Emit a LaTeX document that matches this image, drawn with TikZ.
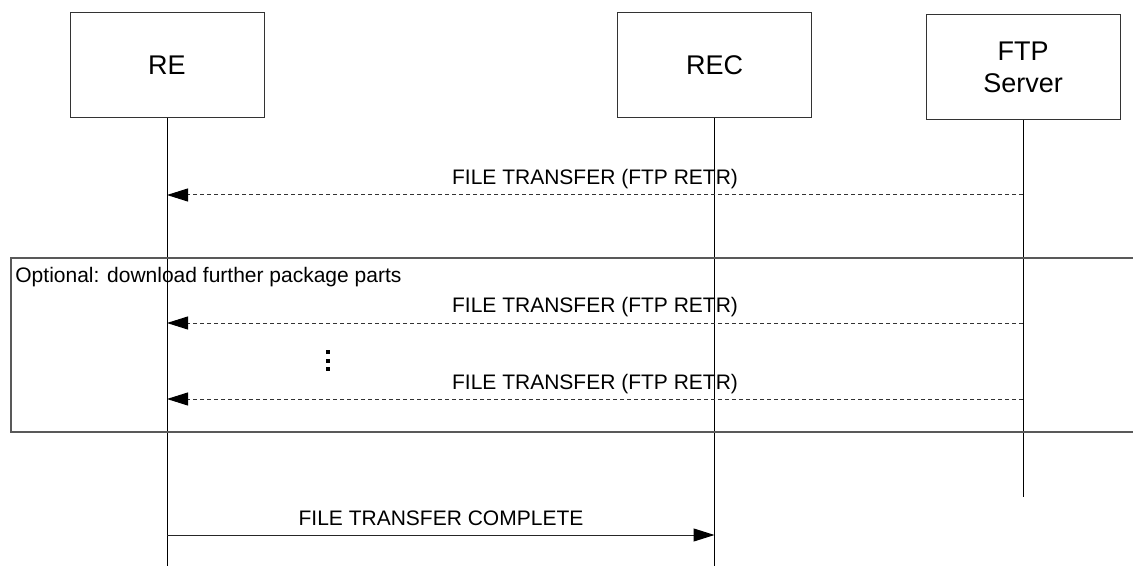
\documentclass[tikz,border=0pt]{standalone}
\usepackage{fontspec}
\setmainfont{Liberation Sans}
\usetikzlibrary{arrows.meta}

\begin{document}
\begin{tikzpicture}[x=0.5pt, y=-0.5pt,
    entity/.style={draw=black!80, line width=0.5pt, minimum width=97pt, minimum height=52.5pt, align=center, font=\fontsize{13.5}{16}\selectfont},
    life/.style={line width=0.5pt},
    msg/.style={line width=0.5pt, -{Triangle[length=10.5pt, width=6.5pt, black]}},
    reply/.style={msg, black!80, dash pattern=on 2pt off 1.5pt},
    lbl/.style={anchor=base, font=\fontsize{10.5}{12.6}\selectfont}]
    \useasboundingbox (0,0) rectangle (1133,566);
    % Draw the entities and their lifelines
    \foreach \name/\x/\y/\txt in {re/167/65.5/RE, rec/714.5/65.5/REC, ftp/1023/67.5/FTP\\Server} {
        \node[entity] (\name) at (\x, \y) {\txt};
    }
    \coordinate (re-end) at (167, 566);
    \coordinate (rec-end) at (714.5, 566);
    \coordinate (ftp-end) at (1023, 497);
    \draw[life] (re) -- (re-end);
    \draw[life] (rec) -- (rec-end);
    \draw[life] (ftp) -- (ftp-end);
    % Draw the optional frame
    \draw[black!65, line width=0.6pt] (1140, 258) -| (11, 432) -- (1140, 432);
    \node[anchor=west, inner sep=1pt, font=\fontsize{10.5}{12.6}\selectfont] (opt) at (13, 277) {Optional: download further package parts};
    % Draw the file transfers
    \foreach \n/\y in {1/195, 2/323, 3/399} {
        \coordinate (ftp-\n) at (1023, \y);
        \coordinate (re-\n) at (167, \y);
        \draw[reply] (ftp-\n) -- (re-\n);
        \node[lbl] (m\n) at (595, \y - 10) {FILE TRANSFER (FTP RETR)};
    }
    \foreach \y in {352, 360.5, 369} {
        \fill (326, \y - 2) rectangle (330, \y + 2);
    }
    % Transfer complete
    \coordinate (re-4) at (167, 535);
    \coordinate (rec-4) at (714.5, 535);
    \draw[msg, black!85] (re-4) -- (rec-4);
    \node[lbl] (m4) at (441, 525) {FILE TRANSFER COMPLETE};
\end{tikzpicture}
\end{document}
